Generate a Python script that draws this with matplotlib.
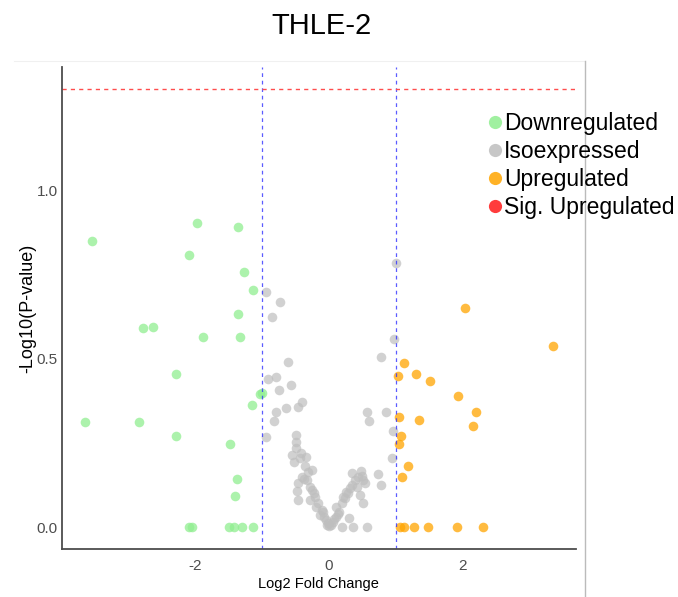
import matplotlib.pyplot as plt
from matplotlib.lines import Line2D

plt.rcParams['font.family'] = ['Liberation Sans', 'DejaVu Sans']
plt.rcParams['axes.unicode_minus'] = False

# log2 fold change / -log10(p) per gene, split by group
down_x = [-1.98, -1.36, -3.55, -2.10, -1.28, -1.14, -1.36, -2.78, -2.63, -1.88,
          -1.33, -2.29, -1.03, -1.01, -1.16, -3.65, -2.84, -2.29, -1.48, -1.38,
          -1.41, -2.09, -2.05, -1.50, -1.42, -1.31, -1.14]
down_y = [0.901, 0.891, 0.849, 0.808, 0.758, 0.704, 0.633, 0.590, 0.595, 0.564,
          0.564, 0.454, 0.395, 0.397, 0.362, 0.311, 0.311, 0.270, 0.246, 0.144,
          0.093, 0.0, 0.0, 0.0, 0.0, 0.0, 0.0]

iso_x = [1.00, -0.95, -0.73, -0.86, 0.98, 0.78, -0.62, -0.91, -0.79, -0.57,
         -0.75, -0.41, -0.46, -0.64, -0.80, -0.82, 0.57, 0.60, 0.86, 0.96,
         -0.94, 0.94, -0.50, -0.49, -0.50, -0.56, -0.42, -0.53, -0.43, -0.34,
         -0.36, -0.26, -0.31, -0.37, -0.46, -0.48, -0.29, -0.46, -0.28, -0.26,
         -0.21, -0.16, -0.11, -0.07, -0.02, 0.03, -0.03, -0.19, -0.13, 0.10,
         0.15, 0.11, 0.19, 0.24, 0.21, 0.29, 0.31, 0.35, 0.39, 0.35,
         0.44, 0.48, 0.51, 0.54, 0.50, 0.30, 0.51, 0.74, 0.78, 0.19,
         0.36, 0.57, 0.06, -0.05, 0.00, 0.13, 0.26, -0.23, -0.33, 0.42,
         0.46, -0.40, 0.08, -0.09]
iso_y = [0.784, 0.698, 0.669, 0.622, 0.557, 0.504, 0.489, 0.438, 0.446, 0.423,
         0.407, 0.371, 0.357, 0.352, 0.340, 0.314, 0.340, 0.315, 0.342, 0.284,
         0.268, 0.206, 0.273, 0.253, 0.236, 0.214, 0.221, 0.192, 0.204, 0.209,
         0.182, 0.169, 0.162, 0.144, 0.130, 0.108, 0.120, 0.080, 0.080, 0.110,
         0.090, 0.070, 0.050, 0.031, 0.011, 0.006, 0.006, 0.060, 0.036, 0.031,
         0.046, 0.060, 0.070, 0.085, 0.090, 0.100, 0.115, 0.125, 0.139, 0.161,
         0.150, 0.167, 0.139, 0.130, 0.151, 0.026, 0.072, 0.157, 0.125, 0.0,
         0.0, 0.0, 0.015, 0.020, 0.003, 0.040, 0.105, 0.100, 0.140, 0.120,
         0.095, 0.150, 0.025, 0.045]

up_x = [2.04, 3.35, 1.12, 1.04, 1.30, 1.51, 1.94, 2.20, 2.16, 1.05,
        1.35, 1.08, 1.05, 1.19, 1.10, 1.06, 1.13, 1.27, 1.48, 1.92, 2.31]
up_y = [0.650, 0.537, 0.486, 0.449, 0.454, 0.434, 0.390, 0.340, 0.301, 0.327,
        0.318, 0.271, 0.247, 0.182, 0.149, 0.0, 0.0, 0.0, 0.0, 0.0, 0.0]

groups = ['Downregulated', 'Isoexpressed', 'Upregulated', 'Sig. Upregulated']
colors = ['#90EE90', '#BEBEBE', '#FFA500', '#FF1A1A']

fc_cut = 1.0
p_cut = 1.301  # -log10(0.05)

fig = plt.figure(figsize=(6.78, 5.97), dpi=100)
ax = fig.add_axes([0.0914, 0.0804, 0.758, 0.8074])

ax.scatter(iso_x, iso_y, s=48, color=colors[1], alpha=0.7, linewidths=0)
ax.scatter(down_x, down_y, s=48, color=colors[0], alpha=0.75, linewidths=0)
ax.scatter(up_x, up_y, s=48, color=colors[2], alpha=0.75, linewidths=0)

ax.axvline(-fc_cut, color='#3333FF', lw=0.9, ls=(0, (3, 3)), alpha=0.8)
ax.axvline(fc_cut, color='#3333FF', lw=0.9, ls=(0, (3, 3)), alpha=0.8)
ax.axhline(p_cut, color='#FF4D4D', lw=1.0, ls=(0, (3, 3)))

ax.set_xlim(-4.0, 3.70)
ax.set_ylim(-0.065, 1.365)
ax.set_xticks([-2, 0, 2])
ax.set_yticks([0.0, 0.5, 1.0])
ax.set_yticklabels(['0.0', '0.5', '1.0'])
ax.tick_params(length=0, labelsize=11, labelcolor='#4D4D4D')
ax.tick_params(axis='x', pad=7)
ax.tick_params(axis='y', pad=3)

for side in ['top', 'right']:
    ax.spines[side].set_visible(False)
for side in ['left', 'bottom']:
    ax.spines[side].set_color('#4D4D4D')
    ax.spines[side].set_linewidth(1.3)

ax.set_xlabel('Log2 Fold Change', fontsize=10.5, labelpad=3)
ax.set_ylabel('-Log10(P-value)', fontsize=13, labelpad=0, fontweight='medium')

fig.suptitle('THLE-2', fontsize=21, x=0.474, y=0.98)

# panel border
fig.add_artist(Line2D([14 / 678, 585 / 678], [1 - 61 / 597, 1 - 61 / 597],
                      transform=fig.transFigure, color='#F0F0F0', lw=0.8))
fig.add_artist(Line2D([585 / 678, 585 / 678], [0, 1 - 61 / 597],
                      transform=fig.transFigure, color='#BBBBBB', lw=1.0))

handles = [Line2D([], [], marker='o', ls='', markersize=9.5, color=c,
                  markeredgewidth=0, alpha=0.85) for c in colors]
fig.legend(handles, groups, loc='upper left',
           bbox_to_anchor=(487 / 678, 1 - 112 / 597), frameon=False,
           fontsize=16.5, handletextpad=0.05, handlelength=0.7,
           labelspacing=0.22, borderpad=0, borderaxespad=0)

plt.savefig('out.png', dpi=100)
